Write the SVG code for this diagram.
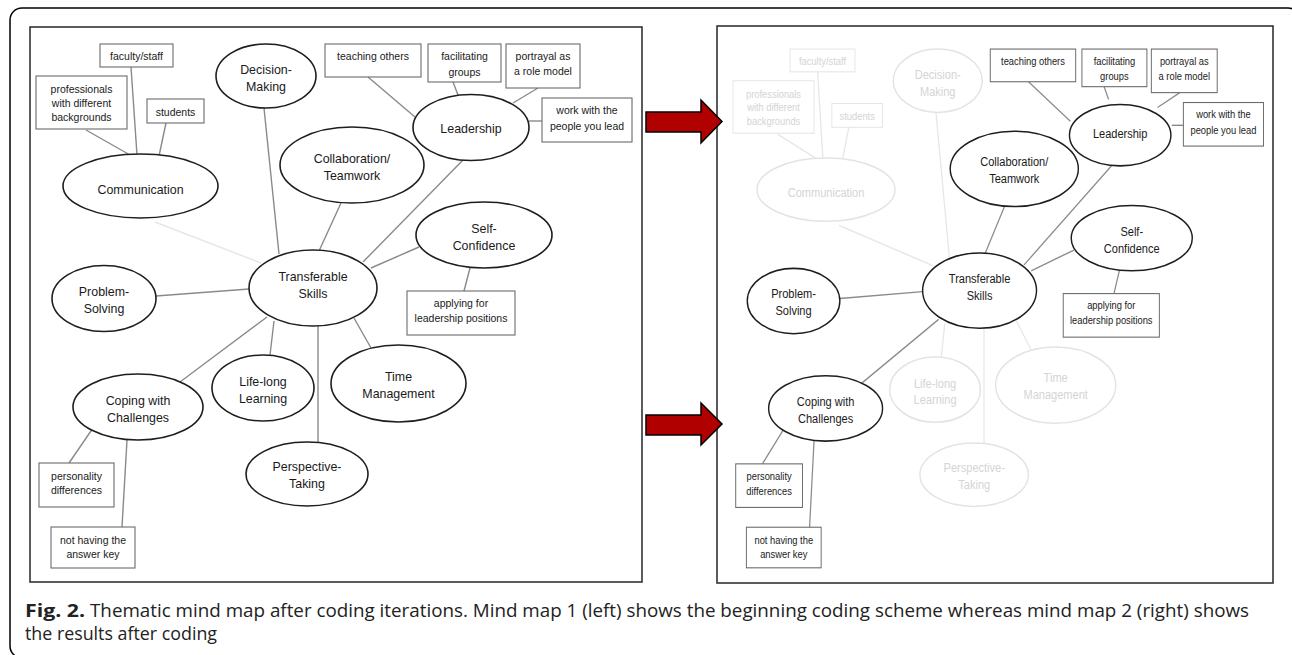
<svg xmlns="http://www.w3.org/2000/svg" width="1292" height="655" viewBox="0 0 1292 655">
<style>
.el{fill:#fff;stroke:#1e1e1e;stroke-width:1.6}
.elf{fill:#fff;stroke:#e3e3e3;stroke-width:1.6}
.bx{fill:#fff;stroke:#6b6b6b;stroke-width:1.1}
.bxf{fill:#fff;stroke:#e6e6e6;stroke-width:1.1}
.ln{stroke:#8a8a8a;stroke-width:1.4;fill:none}
.lnf{stroke:#e6e6e6;stroke-width:1.4;fill:none}
.t{font-family:"Liberation Sans",Arial,sans-serif;font-size:12.4px;fill:#1a1a1a;text-anchor:middle}
.s{font-size:10.5px}
.tf{fill:#d4d4d4}
.frame{fill:none;stroke:#333;stroke-width:1.6}
.arrow{fill:#b00000;stroke:#000;stroke-width:1.5;stroke-linejoin:miter}
.cap{font-family:"Open Sans","Liberation Sans",sans-serif;font-size:18px;fill:#222}
</style>
<rect x="10" y="8" width="1290" height="650" rx="12" fill="none" stroke="#000" stroke-width="1.5"/>
<rect class="frame" x="30" y="27" width="612" height="555"/>
<rect class="frame" x="717" y="26" width="556" height="557"/>
<g id="arrows">
<polygon class="arrow" points="646,112 701,112 701,100 722,121.5 701,143 701,132 646,132"/>
<polygon class="arrow" points="646,415 701,415 701,403 722,424 701,445 701,435 646,435"/>
</g>

<g id="map1">
<g id="connectors1">
<line class="ln" x1="86" y1="130" x2="130" y2="155"/>
<line class="ln" x1="131" y1="67" x2="137" y2="155"/>
<line class="ln" x1="166" y1="123" x2="159" y2="156"/>
<line class="lnf" x1="155" y1="222" x2="261" y2="263"/>
<line class="ln" x1="264" y1="108" x2="279" y2="254"/>
<line class="ln" x1="341" y1="203" x2="319" y2="251"/>
<line class="ln" x1="463" y1="160" x2="363" y2="262"/>
<line class="ln" x1="419" y1="247" x2="371" y2="268"/>
<line class="ln" x1="470" y1="268" x2="464" y2="291"/>
<line class="ln" x1="368" y1="77" x2="415" y2="117"/>
<line class="ln" x1="453" y1="82" x2="458" y2="95"/>
<line class="ln" x1="538" y1="88" x2="513" y2="103"/>
<line class="ln" x1="529" y1="121" x2="542" y2="121"/>
<line class="ln" x1="156" y1="296" x2="249" y2="289"/>
<line class="ln" x1="267" y1="317" x2="180" y2="382"/>
<line class="ln" x1="274" y1="321" x2="270" y2="355"/>
<line class="ln" x1="318" y1="326" x2="318" y2="442"/>
<line class="ln" x1="354" y1="318" x2="371" y2="348"/>
<line class="ln" x1="93" y1="428" x2="69" y2="463"/>
<line class="ln" x1="127" y1="440" x2="122" y2="527"/>
</g>
<g id="fac1"><rect class="bx" x="100" y="44" width="73" height="23"/><text class="t s" x="136.5" y="60">faculty/staff</text></g>
<g id="prof1"><rect class="bx" x="36" y="76" width="91" height="53"/><text class="t s" x="81.5" y="93">professionals</text><text class="t s" x="81.5" y="107">with different</text><text class="t s" x="81.5" y="121">backgrounds</text></g>
<g id="stud1"><rect class="bx" x="147" y="99" width="57" height="24"/><text class="t s" x="175.5" y="115.5">students</text></g>
<g id="teach1"><rect class="bx" x="325" y="44" width="96" height="33"/><text class="t s" x="373" y="60">teaching others</text></g>
<g id="facil1"><rect class="bx" x="428" y="44" width="73" height="38"/><text class="t s" x="464.5" y="60">facilitating</text><text class="t s" x="464.5" y="75.5">groups</text></g>
<g id="portr1"><rect class="bx" x="506" y="44" width="74" height="44"/><text class="t s" x="543" y="60">portrayal as</text><text class="t s" x="543" y="75">a role model</text></g>
<g id="work1"><rect class="bx" x="542" y="98" width="90" height="44"/><text class="t s" x="587" y="114">work with the</text><text class="t s" x="587" y="129.5">people you lead</text></g>
<g id="apply1"><rect class="bx" x="407" y="291" width="108" height="44"/><text class="t s" x="461" y="307">applying for</text><text class="t s" x="461" y="322">leadership positions</text></g>
<g id="pers1"><rect class="bx" x="39" y="463" width="75" height="44"/><text class="t s" x="76.5" y="479.5">personality</text><text class="t s" x="76.5" y="494">differences</text></g>
<g id="noth1"><rect class="bx" x="51" y="527" width="84" height="41"/><text class="t s" x="93" y="543.5">not having the</text><text class="t s" x="93" y="558">answer key</text></g>
<g id="comm1"><ellipse class="el" cx="140.5" cy="186" rx="77.5" ry="32"/><text class="t" x="140.5" y="193.5">Communication</text></g>
<g id="dec1"><ellipse class="el" cx="266" cy="76" rx="50" ry="32"/><text class="t" x="266" y="74">Decision-</text><text class="t" x="266" y="91">Making</text></g>
<g id="coll1"><ellipse class="el" cx="352" cy="165" rx="72" ry="38"/><text class="t" x="352" y="162.5">Collaboration/</text><text class="t" x="352" y="179.5">Teamwork</text></g>
<g id="lead1"><ellipse class="el" cx="471" cy="127.5" rx="58" ry="33"/><text class="t" x="471" y="132.5">Leadership</text></g>
<g id="sc1"><ellipse class="el" cx="484" cy="235" rx="68" ry="33"/><text class="t" x="484" y="233">Self-</text><text class="t" x="484" y="250">Confidence</text></g>
<g id="ts1"><ellipse class="el" cx="313" cy="288" rx="64" ry="38"/><text class="t" x="313" y="280.5">Transferable</text><text class="t" x="313" y="297.5">Skills</text></g>
<g id="ps1"><ellipse class="el" cx="104" cy="298.5" rx="52" ry="33"/><text class="t" x="104" y="295.5">Problem-</text><text class="t" x="104" y="312.5">Solving</text></g>
<g id="life1"><ellipse class="el" cx="263" cy="388" rx="51" ry="33"/><text class="t" x="263" y="386">Life-long</text><text class="t" x="263" y="403">Learning</text></g>
<g id="time1"><ellipse class="el" cx="398.5" cy="383.5" rx="67.5" ry="38.5"/><text class="t" x="398.5" y="380.5">Time</text><text class="t" x="398.5" y="397.5">Management</text></g>
<g id="persp1"><ellipse class="el" cx="307" cy="474" rx="61" ry="32"/><text class="t" x="307" y="471">Perspective-</text><text class="t" x="307" y="488">Taking</text></g>
<g id="cope1"><ellipse class="el" cx="138" cy="407" rx="65" ry="33"/><text class="t" x="138" y="405">Coping with</text><text class="t" x="138" y="422">Challenges</text></g>
</g>

<g id="map2" transform="matrix(0.89 0 0 0.99 701 5.5)">
<g id="connectors2">
<line class="lnf" x1="86" y1="130" x2="130" y2="155"/>
<line class="lnf" x1="131" y1="67" x2="137" y2="155"/>
<line class="lnf" x1="166" y1="123" x2="159" y2="156"/>
<line class="lnf" x1="155" y1="222" x2="261" y2="263"/>
<line class="lnf" x1="264" y1="108" x2="279" y2="254"/>
<line class="ln" x1="341" y1="203" x2="319" y2="251"/>
<line class="ln" x1="463" y1="160" x2="363" y2="262"/>
<line class="ln" x1="419" y1="247" x2="371" y2="268"/>
<line class="ln" x1="470" y1="268" x2="464" y2="291"/>
<line class="ln" x1="368" y1="77" x2="415" y2="117"/>
<line class="ln" x1="453" y1="82" x2="458" y2="95"/>
<line class="ln" x1="538" y1="88" x2="513" y2="103"/>
<line class="ln" x1="529" y1="121" x2="542" y2="121"/>
<line class="ln" x1="156" y1="296" x2="249" y2="289"/>
<line class="ln" x1="267" y1="317" x2="180" y2="382"/>
<line class="lnf" x1="274" y1="321" x2="270" y2="355"/>
<line class="lnf" x1="318" y1="326" x2="318" y2="442"/>
<line class="lnf" x1="354" y1="318" x2="371" y2="348"/>
<line class="ln" x1="93" y1="428" x2="69" y2="463"/>
<line class="ln" x1="127" y1="440" x2="122" y2="527"/>
</g>
<g id="fac2"><rect class="bxf" x="100" y="44" width="73" height="23"/><text class="t s tf" x="136.5" y="60">faculty/staff</text></g>
<g id="prof2"><rect class="bxf" x="36" y="76" width="91" height="53"/><text class="t s tf" x="81.5" y="93">professionals</text><text class="t s tf" x="81.5" y="107">with different</text><text class="t s tf" x="81.5" y="121">backgrounds</text></g>
<g id="stud2"><rect class="bxf" x="147" y="99" width="57" height="24"/><text class="t s tf" x="175.5" y="115.5">students</text></g>
<g id="teach2"><rect class="bx" x="325" y="44" width="96" height="33"/><text class="t s" x="373" y="60">teaching others</text></g>
<g id="facil2"><rect class="bx" x="428" y="44" width="73" height="38"/><text class="t s" x="464.5" y="60">facilitating</text><text class="t s" x="464.5" y="75.5">groups</text></g>
<g id="portr2"><rect class="bx" x="506" y="44" width="74" height="44"/><text class="t s" x="543" y="60">portrayal as</text><text class="t s" x="543" y="75">a role model</text></g>
<g id="work2"><rect class="bx" x="542" y="98" width="90" height="44"/><text class="t s" x="587" y="114">work with the</text><text class="t s" x="587" y="129.5">people you lead</text></g>
<g id="apply2"><rect class="bx" x="407" y="291" width="108" height="44"/><text class="t s" x="461" y="307">applying for</text><text class="t s" x="461" y="322">leadership positions</text></g>
<g id="pers2"><rect class="bx" x="39" y="463" width="75" height="44"/><text class="t s" x="76.5" y="479.5">personality</text><text class="t s" x="76.5" y="494">differences</text></g>
<g id="noth2"><rect class="bx" x="51" y="527" width="84" height="41"/><text class="t s" x="93" y="543.5">not having the</text><text class="t s" x="93" y="558">answer key</text></g>
<g id="comm2"><ellipse class="elf" cx="140.5" cy="186" rx="77.5" ry="32"/><text class="t tf" x="140.5" y="193.5">Communication</text></g>
<g id="dec2"><ellipse class="elf" cx="266" cy="76" rx="50" ry="32"/><text class="t tf" x="266" y="74">Decision-</text><text class="t tf" x="266" y="91">Making</text></g>
<g id="coll2"><ellipse class="el" cx="352" cy="165" rx="72" ry="38"/><text class="t" x="352" y="162.5">Collaboration/</text><text class="t" x="352" y="179.5">Teamwork</text></g>
<g id="lead2"><ellipse class="el" cx="471" cy="131" rx="57" ry="31"/><text class="t" x="471" y="134">Leadership</text></g>
<g id="sc2"><ellipse class="el" cx="484" cy="235" rx="68" ry="33"/><text class="t" x="484" y="233">Self-</text><text class="t" x="484" y="250">Confidence</text></g>
<g id="ts2"><ellipse class="el" cx="313" cy="288" rx="64" ry="38"/><text class="t" x="313" y="280.5">Transferable</text><text class="t" x="313" y="297.5">Skills</text></g>
<g id="ps2"><ellipse class="el" cx="104" cy="298.5" rx="52" ry="33"/><text class="t" x="104" y="295.5">Problem-</text><text class="t" x="104" y="312.5">Solving</text></g>
<g id="life2"><ellipse class="elf" cx="263" cy="388" rx="51" ry="33"/><text class="t tf" x="263" y="386">Life-long</text><text class="t tf" x="263" y="403">Learning</text></g>
<g id="time2"><ellipse class="elf" cx="398.5" cy="383.5" rx="67.5" ry="38.5"/><text class="t tf" x="398.5" y="380.5">Time</text><text class="t tf" x="398.5" y="397.5">Management</text></g>
<g id="persp2"><ellipse class="elf" cx="307" cy="474" rx="61" ry="32"/><text class="t tf" x="307" y="471">Perspective-</text><text class="t tf" x="307" y="488">Taking</text></g>
<g id="cope2"><ellipse class="el" cx="140" cy="407" rx="64" ry="33"/><text class="t" x="140" y="405">Coping with</text><text class="t" x="140" y="422">Challenges</text></g>
</g>

<g id="caption">
<text class="cap" x="25" y="617" font-weight="bold" textLength="60" lengthAdjust="spacingAndGlyphs">Fig. 2.</text>
<text class="cap" x="90" y="617" textLength="1159" lengthAdjust="spacingAndGlyphs">Thematic mind map after coding iterations. Mind map 1 (left) shows the beginning coding scheme whereas mind map 2 (right) shows</text>
<text class="cap" x="25" y="640" textLength="192" lengthAdjust="spacingAndGlyphs">the results after coding</text>
</g>
</svg>
